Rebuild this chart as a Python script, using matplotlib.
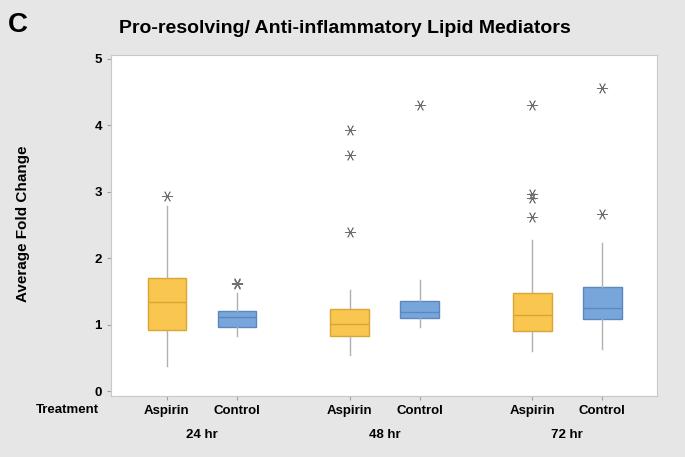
import matplotlib.pyplot as plt

plt.rcParams['font.family'] = ['Liberation Sans', 'DejaVu Sans']

# ---------------------------
# data
# ---------------------------
times = ["24 hr", "48 hr", "72 hr"]
treatments = ["Aspirin", "Control"]

q1 = [0.92, 0.96, 0.83, 1.10, 0.90, 1.09]
med = [1.34, 1.11, 1.01, 1.19, 1.15, 1.25]
q3 = [1.70, 1.20, 1.23, 1.36, 1.47, 1.56]
whislo = [0.38, 0.83, 0.54, 0.96, 0.60, 0.64]
whishi = [2.78, 1.47, 1.52, 1.67, 2.28, 2.23]
fliers = [
    [2.93],
    [1.63, 1.61],
    [3.93, 3.56, 2.39],
    [4.31],
    [4.30, 2.97, 2.91, 2.62],
    [4.56, 2.67],
]

positions = [0, 1, 2.61, 3.61, 5.22, 6.22]
fill_colors = ["#F9C650", "#78A5DA"] * 3
edge_colors = ["#D9A636", "#5A87BF"] * 3

stats = []
for i in range(6):
    stats.append(dict(q1=q1[i], med=med[i], q3=q3[i],
                      whislo=whislo[i], whishi=whishi[i], fliers=fliers[i]))

# ---------------------------
# figure
# ---------------------------
fig = plt.figure(figsize=(6.85, 4.57), dpi=100, facecolor="#E6E6E6")
ax = fig.add_axes([0.162, 0.134, 0.797, 0.746])

bp = ax.bxp(stats, positions=positions, widths=0.55, patch_artist=True,
            showcaps=False,
            whiskerprops=dict(color="#B0B0B0", linewidth=1.0),
            flierprops=dict(marker=(6, 2, 90), markersize=8,
                            markeredgecolor="#707070", markerfacecolor="none",
                            markeredgewidth=0.6, linestyle="none"))

for box, fc, ec, m in zip(bp["boxes"], fill_colors, edge_colors, bp["medians"]):
    box.set_facecolor(fc)
    box.set_edgecolor(ec)
    box.set_linewidth(1.0)
    m.set_color(ec)
    m.set_linewidth(1.0)

ax.set_xlim(-0.8, 7.0)
ax.set_ylim(-0.07, 5.06)
ax.set_yticks([0, 1, 2, 3, 4, 5])
ax.set_xticks(positions)
ax.set_xticklabels(treatments * 3)
ax.tick_params(axis="both", labelsize=9.5, color="#A0A0A0", length=3)
for lab in ax.get_xticklabels() + ax.get_yticklabels():
    lab.set_fontweight("bold")
for s in ax.spines.values():
    s.set_color("#C8C8C8")

fig.text(0.034, 0.51, "Average Fold Change", rotation=90,
         ha="center", va="center", fontsize=11, fontweight="bold")

for k, t in enumerate(times):
    xc = (positions[2 * k] + positions[2 * k + 1]) / 2
    ax.text(xc, -0.115, t, transform=ax.get_xaxis_transform(),
            ha="center", va="center", fontsize=9.5, fontweight="bold")
fig.text(0.099, 0.103, "Treatment", ha="center", va="center",
         fontsize=9.5, fontweight="bold")

fig.text(0.503, 0.937, "Pro-resolving/ Anti-inflammatory Lipid Mediators",
         ha="center", va="center", fontsize=14, fontweight="bold")
fig.text(0.012, 0.945, "C", ha="left", va="center", fontsize=20, fontweight="bold")

fig.savefig("out.png", dpi=100, facecolor=fig.get_facecolor())
